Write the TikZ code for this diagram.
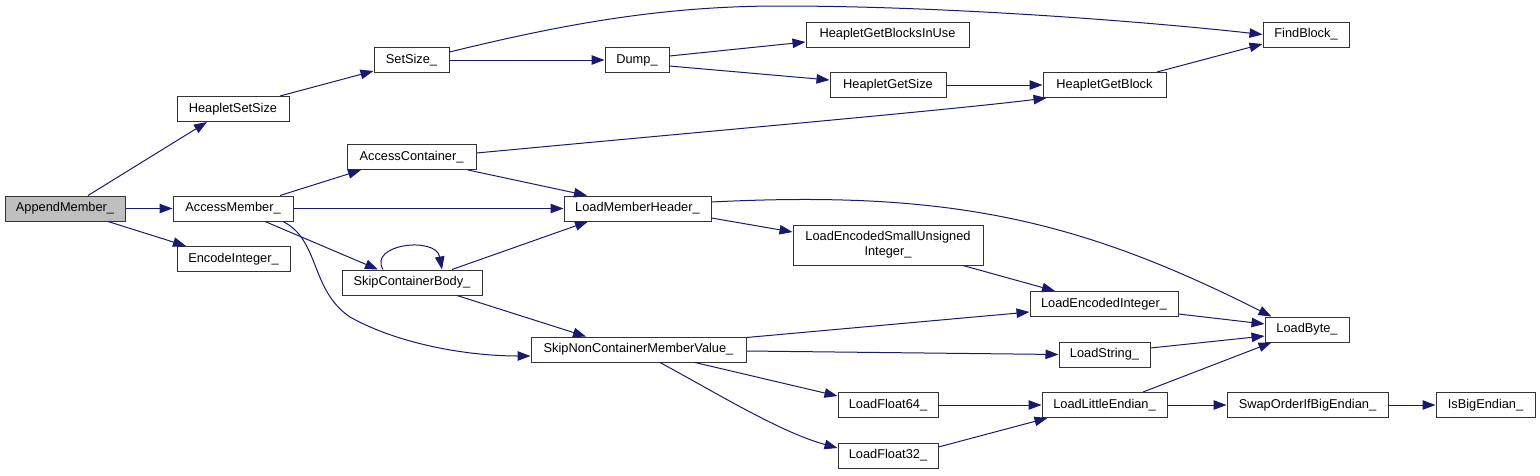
\documentclass[tikz,border=0pt]{standalone}
\usepackage{fontspec}
\setmainfont{Liberation Sans}
\usetikzlibrary{arrows.meta,calc}
\definecolor{edgeblue}{HTML}{191970}
\tikzset{
  box/.style={draw=black!80, fill=white, line width=1pt, inner sep=0pt,
    font=\fontsize{12.8}{15}\selectfont, align=center},
  rootbox/.style={box, fill=black!25},
  edge/.style={draw=edgeblue, line width=1pt, -{Triangle[length=13pt,width=9.5pt]}}
}
\begin{document}
\begin{tikzpicture}[x=1pt,y=-1pt]
\useasboundingbox (0,0) rectangle (1540,475);
% nodes
\node[rootbox,minimum width=120pt,minimum height=25pt] (append) at (65,208.5) {AppendMember\_};
\node[box,minimum width=120pt,minimum height=25pt] (accm) at (233,208.5) {AccessMember\_};
\node[box,minimum width=113pt,minimum height=25pt] (enc) at (233.5,259) {EncodeInteger\_};
\node[box,minimum width=112pt,minimum height=25pt] (hss) at (233,109) {HeapletSetSize};
\node[box,minimum width=75pt,minimum height=25pt] (ss) at (411.5,60) {SetSize\_};
\node[box,minimum width=129pt,minimum height=25pt] (acc) at (411.5,157) {AccessContainer\_};
\node[box,minimum width=140pt,minimum height=25pt] (scb) at (412,282.5) {SkipContainerBody\_};
\node[box,minimum width=64pt,minimum height=25pt] (dump) at (637,60) {Dump\_};
\node[box,minimum width=147pt,minimum height=25pt] (lmh) at (637.5,208.5) {LoadMemberHeader\_};
\node[box,minimum width=215pt,minimum height=25pt] (sncmv) at (638.5,349.5) {SkipNonContainerMemberValue\_};
\node[box,minimum width=163pt,minimum height=25pt] (hgbu) at (887.5,34.5) {HeapletGetBlocksInUse};
\node[box,minimum width=116pt,minimum height=25pt] (hgs) at (888,85) {HeapletGetSize};
\node[box,minimum width=190pt,minimum height=40pt] (lesu) at (888,245) {LoadEncodedSmallUnsigned\\Integer\_};
\node[box,minimum width=100pt,minimum height=25pt] (lf64) at (888,405) {LoadFloat64\_};
\node[box,minimum width=100pt,minimum height=25pt] (lf32) at (888,455.5) {LoadFloat32\_};
\node[box,minimum width=123pt,minimum height=25pt] (hgb) at (1104.5,85) {HeapletGetBlock};
\node[box,minimum width=148pt,minimum height=25pt] (lei) at (1104,304) {LoadEncodedInteger\_};
\node[box,minimum width=91pt,minimum height=25pt] (ls) at (1104.5,354.5) {LoadString\_};
\node[box,minimum width=125pt,minimum height=25pt] (lle) at (1104.5,405) {LoadLittleEndian\_};
\node[box,minimum width=86pt,minimum height=25pt] (fb) at (1306,34.5) {FindBlock\_};
\node[box,minimum width=84pt,minimum height=25pt] (lb) at (1307,329.5) {LoadByte\_};
\node[box,minimum width=161pt,minimum height=25pt] (swap) at (1307.5,405) {SwapOrderIfBigEndian\_};
\node[box,minimum width=99pt,minimum height=25pt] (ibe) at (1485.5,405) {IsBigEndian\_};
% edges
\draw[edge] ($(append.north)+(23,0)$) -- ($(hss.south)+(-26,0)$);
\draw[edge] (append.east) -- (accm.west);
\draw[edge] ($(append.south)+(43,0)$) -- ($(enc.north)+(-47.5,0)$);
\draw[edge] ($(hss.north)+(47,0)$) -- ($(ss.west)+(0,11)$);
\draw[edge] (ss.east) -- (dump.west);
\draw[edge] ($(ss.east)+(0,-8)$) .. controls (560,25) and (660,6) .. (780,6)
  .. controls (950,6) and (1150,22) .. (fb.west);
\draw[edge] ($(dump.east)+(0,-4)$) -- ($(hgbu.west)+(0,7.5)$);
\draw[edge] ($(dump.east)+(0,6)$) -- ($(hgs.west)+(0,-5)$);
\draw[edge] (hgs.east) -- (hgb.west);
\draw[edge] ($(hgb.north)+(52.5,0)$) -- ($(fb.west)+(0,9.5)$);
\draw[edge] ($(acc.east)+(0,-4)$) .. controls (700,132) and (950,110) .. ($(hgb.south west)+(4,0)$);
\draw[edge] ($(acc.south)+(56.5,0)$) -- ($(lmh.north)+(-50.5,0)$);
\draw[edge] ($(accm.north)+(47,0)$) -- ($(acc.south)+(-50.5,0)$);
\draw[edge] (accm.east) -- (lmh.west);
\draw[edge] ($(accm.south)+(32,0)$) -- ($(scb.north)+(-34,0)$);
\draw[edge] ($(accm.south)+(50,0)$) .. controls (320,240) and (310,290) .. (350,317)
  .. controls (400,345) and (470,356) .. ($(sncmv.west)+(0,6.5)$);
\draw[edge] ($(scb.north)+(-29,0)$) .. controls (368,244) and (436,236) .. ($(scb.north)+(30,0)$);
\draw[edge] ($(scb.north)+(40,0)$) -- ($(lmh.south)+(-49.5,0)$);
\draw[edge] ($(scb.south)+(45,0)$) -- ($(sncmv.north)+(-52.5,0)$);
\draw[edge] ($(lmh.east)+(0,9.5)$) -- ($(lesu.west)+(0,-13)$);
\draw[edge] ($(lmh.east)+(0,-6.5)$) .. controls (950,190) and (1080,220) .. ($(lb.north west)+(7,0)$);
\draw[edge] ($(lesu.south)+(75,0)$) -- ($(lei.north)+(-49,0)$);
\draw[edge] ($(lei.east)+(0,10)$) -- ($(lb.west)+(0,-5.5)$);
\draw[edge] ($(sncmv.north east)+(0,1)$) -- ($(lei.west)+(0,8)$);
\draw[edge] ($(sncmv.east)+(0,1.5)$) -- (ls.west);
\draw[edge] ($(sncmv.south)+(56.5,0)$) -- ($(lf64.west)+(0,-9)$);
\draw[edge] ($(sncmv.south)+(21.5,0)$) .. controls (720,395) and (780,432) .. ($(lf32.west)+(0,-7.5)$);
\draw[edge] ($(ls.east)+(0,-6.5)$) -- ($(lb.west)+(0,6.5)$);
\draw[edge] (lf64.east) -- (lle.west);
\draw[edge] ($(lf32.east)+(0,-8.5)$) -- ($(lle.south west)+(6,0)$);
\draw[edge] ($(lle.north)+(38.5,0)$) -- ($(lb.south west)+(7,0)$);
\draw[edge] (lle.east) -- (swap.west);
\draw[edge] (swap.east) -- (ibe.west);
\end{tikzpicture}
\end{document}
